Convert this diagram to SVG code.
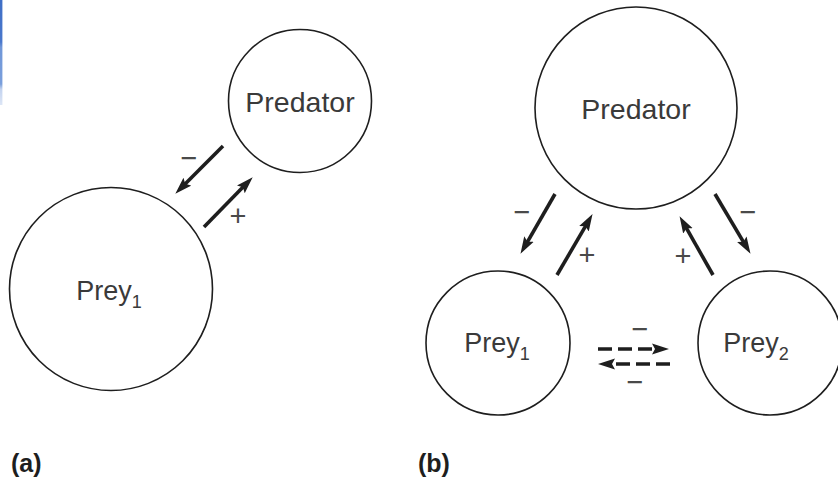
<svg xmlns="http://www.w3.org/2000/svg" width="838" height="479" viewBox="0 0 838 479">
  <defs>
    <linearGradient id="bar" x1="0" y1="0" x2="0" y2="1">
      <stop offset="0" stop-color="#3f6fc6"/>
      <stop offset="0.4" stop-color="#4a78cc"/>
      <stop offset="0.45" stop-color="#7097d8"/>
      <stop offset="0.8" stop-color="#7a9fdc"/>
      <stop offset="0.85" stop-color="#c3d3ef"/>
      <stop offset="1" stop-color="#dde6f6"/>
    </linearGradient>
    <marker id="head" markerUnits="userSpaceOnUse" markerWidth="18" markerHeight="12" refX="6" refY="6" orient="auto" viewBox="0 0 18 12">
      <path d="M0,0.5 L17,6 L0,11.5 L3,6 z" fill="#1e1e1e"/>
    </marker>
  </defs>
  <style>
    .node circle { fill: #fff; stroke: #1e1e1e; stroke-width: 1.6; }
    .node text { font-family: "Liberation Sans", Arial, sans-serif; font-size: 27px; fill: #3a3a3a; text-anchor: middle; }
    .node text.big { font-size: 28.5px; }
    .sub { font-size: 18px; }
    .arrow { stroke: #1e1e1e; stroke-width: 3.6; fill: none; marker-end: url(#head); }
    .dashed { stroke-dasharray: 14 6; }
    .sign { font-family: "Liberation Sans", Arial, sans-serif; font-size: 29px; fill: #4a4a4a; text-anchor: middle; }
    .panel { font-family: "Liberation Sans", Arial, sans-serif; font-size: 25px; font-weight: bold; fill: #1e1e1e; }
  </style>
  <rect width="838" height="479" fill="#fff"/>
  <rect x="0" y="0" width="2.4" height="105" fill="url(#bar)"/>

  <g id="a-predator" class="node">
    <circle cx="300" cy="101" r="71.5"/>
    <text class="big" x="300" y="112">Predator</text>
  </g>
  <g id="a-prey1" class="node">
    <circle cx="111" cy="289" r="101.5"/>
    <text x="109" y="300">Prey<tspan class="sub" dy="8">1</tspan></text>
  </g>

  <g id="b-predator" class="node">
    <circle cx="636" cy="108" r="101"/>
    <text class="big" x="636" y="119">Predator</text>
  </g>
  <g id="b-prey1" class="node">
    <circle cx="498" cy="343" r="72"/>
    <text x="497" y="352">Prey<tspan class="sub" dy="8">1</tspan></text>
  </g>
  <g id="b-prey2" class="node">
    <circle cx="770" cy="343" r="72"/>
    <text x="756" y="352">Prey<tspan class="sub" dy="8">2</tspan></text>
  </g>

  <g id="connectors">
    <line class="arrow" x1="223" y1="146" x2="183.1" y2="185.9"/>
    <line class="arrow" x1="204" y1="227" x2="245" y2="185.1"/>
    <line class="arrow" x1="555" y1="194" x2="526" y2="244.3"/>
    <line class="arrow" x1="557" y1="275" x2="587" y2="223.6"/>
    <line class="arrow" x1="713" y1="275" x2="685" y2="225.7"/>
    <line class="arrow" x1="715" y1="194" x2="744.9" y2="244.4"/>
    <line class="arrow dashed" x1="598" y1="349" x2="658" y2="349"/>
    <line class="arrow dashed" x1="670" y1="364" x2="609" y2="364"/>
  </g>

  <g id="labels">
    <text class="sign" x="189" y="168">−</text>
    <text class="sign" x="238" y="226">+</text>
    <text class="sign" x="522" y="222">−</text>
    <text class="sign" x="587" y="265">+</text>
    <text class="sign" x="683" y="266">+</text>
    <text class="sign" x="748" y="222">−</text>
    <text class="sign" x="640" y="339">−</text>
    <text class="sign" x="635" y="392">−</text>
  </g>

  <text class="panel" x="11" y="472">(a)</text>
  <text class="panel" x="418" y="472">(b)</text>
</svg>
